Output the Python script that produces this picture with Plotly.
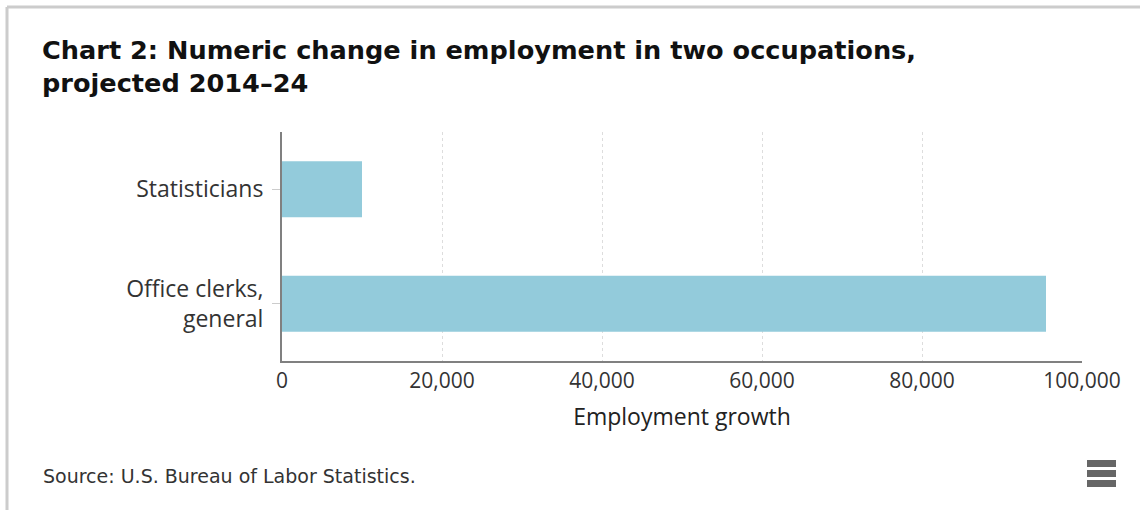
import plotly.graph_objects as go

categories = ["Statisticians", "Office clerks,<br>general"]
values = [10000, 95500]
x_ticks = [0, 20000, 40000, 60000, 80000, 100000]

W, H = 1140, 510
L, R, T, B = 282, 1082, 132, 361

def px(x):
    return (x - L) / (R - L)

def py(y):
    return (B - y) / (B - T)

fig = go.Figure(go.Bar(
    x=values, y=categories, orientation="h",
    marker=dict(color="#93cbdb", line=dict(width=0)),
    width=0.49, hoverinfo="skip",
))

shapes = [
    dict(type="line", xref="paper", yref="paper", x0=px(7), x1=px(1145), y0=py(7), y1=py(7),
         line=dict(color="#cccccc", width=3)),
    dict(type="line", xref="paper", yref="paper", x0=px(7), x1=px(7), y0=py(7), y1=py(515),
         line=dict(color="#cccccc", width=3)),
]
for y0 in (460, 470, 480):
    shapes.append(dict(type="rect", xref="paper", yref="paper", x0=px(1087), x1=px(1116),
                       y0=py(y0), y1=py(y0 + 7), line=dict(width=0), fillcolor="#666666"))

fig.update_layout(
    width=W, height=H,
    margin=dict(l=L, r=W - R, t=T, b=H - B, pad=0),
    paper_bgcolor="white", plot_bgcolor="white",
    showlegend=False,
    bargap=0.51,
    font=dict(family="Open Sans", color="#333333"),
    xaxis=dict(
        range=[0, 100000], tickvals=x_ticks, tickformat=",",
        showgrid=True, gridcolor="#dddddd", griddash="dot", gridwidth=1,
        showline=True, linecolor="#808080", linewidth=2,
        ticks="", tickfont=dict(family="Open Sans", size=21, color="#333333"),
        title=dict(text="Employment growth", font=dict(family="Open Sans", size=23, color="#222222"),
                   standoff=16),
        zeroline=False, fixedrange=True,
    ),
    yaxis=dict(
        categoryorder="array", categoryarray=categories[::-1],
        showline=True, linecolor="#808080", linewidth=2,
        ticks="outside", ticklen=8, tickcolor="#cccccc", tickwidth=1,
        ticklabelstandoff=4,
        tickfont=dict(family="Open Sans", size=23, color="#333333"),
        showgrid=False, zeroline=False, fixedrange=True,
    ),
    shapes=shapes,
    annotations=[
        dict(text="Chart 2: Numeric change in employment in two occupations,<br>projected 2014\u201324",
             xref="paper", yref="paper", x=px(40), y=py(33), xanchor="left", yanchor="top",
             align="left", showarrow=False,
             font=dict(family="DejaVu Sans", size=25.6, color="#111111", weight="bold")),
        dict(text="Source: U.S. Bureau of Labor Statistics.",
             xref="paper", yref="paper", x=px(41), y=py(476), xanchor="left", yanchor="middle",
             showarrow=False, font=dict(family="DejaVu Sans", size=19, color="#333333")),
    ],
)

fig.write_html("out.html", config={"displayModeBar": False})
